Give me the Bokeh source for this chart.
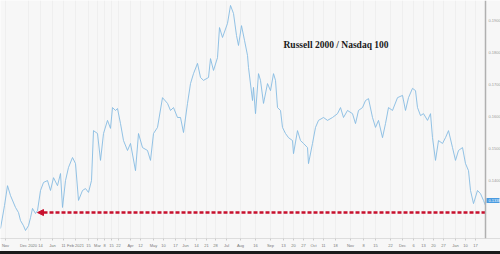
from bokeh.plotting import figure
from bokeh.models import Label, Arrow, NormalHead, FixedTicker, Range1d, Div, Span
from bokeh.core.properties import value
from bokeh.layouts import column
from bokeh.embed import file_html
from bokeh.resources import INLINE

# ---- data ----
day = [0, 4, 7, 10, 15, 18, 20, 23, 25, 28, 30, 32, 35, 37, 40, 43, 47, 50, 53, 57,
       60, 62, 65, 68, 72, 75, 78, 82, 85, 88, 91, 93, 97, 100, 103, 107, 110, 112, 115, 117,
       120, 123, 127, 130, 135, 138, 142, 147, 150, 153, 157, 162, 167, 170, 173, 177, 180, 183, 187, 190,
       193, 197, 200, 203, 208, 210, 213, 217, 219, 222, 227, 230, 233, 236, 238, 241, 244, 247, 248, 252,
       253, 255, 258, 260, 263, 267, 270, 273, 275, 277, 280, 282, 285, 288, 292, 293, 297, 300, 303, 307,
       308, 312, 315, 318, 323, 327, 332, 337, 340, 343, 347, 352, 355, 358, 362, 365, 368, 372, 375, 378,
       382, 385, 388, 392, 397, 402, 405, 408, 412, 415, 417, 420, 423, 427, 430, 432, 435, 438, 442, 445,
       448, 452, 455, 458, 462, 465, 468, 470, 473, 477, 480, 483, 485]
ratio = [0.1250, 0.1322, 0.1384, 0.1353, 0.1316, 0.1300, 0.1275, 0.1259, 0.1244, 0.1259,
         0.1284, 0.1313, 0.1297, 0.1306, 0.1369, 0.1394, 0.1400, 0.1369, 0.1409, 0.1384,
         0.1422, 0.1316, 0.1400, 0.1441, 0.1472, 0.1453, 0.1338, 0.1369, 0.1375, 0.1363,
         0.1400, 0.1556, 0.1547, 0.1463, 0.1547, 0.1588, 0.1563, 0.1628, 0.1619, 0.1625,
         0.1578, 0.1525, 0.1494, 0.1516, 0.1431, 0.1547, 0.1503, 0.1494, 0.1463, 0.1547,
         0.1566, 0.1659, 0.1641, 0.1619, 0.1628, 0.1597, 0.1597, 0.1550, 0.1641, 0.1703,
         0.1734, 0.1766, 0.1722, 0.1713, 0.1722, 0.1781, 0.1744, 0.1784, 0.1878, 0.1847,
         0.1891, 0.1947, 0.1922, 0.1853, 0.1822, 0.1884, 0.1838, 0.1791, 0.1753, 0.1650,
         0.1691, 0.1609, 0.1734, 0.1713, 0.1641, 0.1703, 0.1681, 0.1734, 0.1713, 0.1628,
         0.1619, 0.1566, 0.1547, 0.1534, 0.1525, 0.1484, 0.1556, 0.1525, 0.1516, 0.1503,
         0.1453, 0.1516, 0.1566, 0.1588, 0.1597, 0.1588, 0.1597, 0.1609, 0.1628, 0.1597,
         0.1619, 0.1609, 0.1578, 0.1619, 0.1628, 0.1650, 0.1656, 0.1597, 0.1566, 0.1588,
         0.1534, 0.1578, 0.1628, 0.1619, 0.1659, 0.1666, 0.1619, 0.1659, 0.1688, 0.1681,
         0.1628, 0.1603, 0.1609, 0.1588, 0.1609, 0.1534, 0.1463, 0.1525, 0.1516, 0.1534,
         0.1556, 0.1503, 0.1463, 0.1494, 0.1503, 0.1453, 0.1431, 0.1369, 0.1328, 0.1369,
         0.1359, 0.1338, 0.1322]

y_ticks = [0.14, 0.15, 0.16, 0.17, 0.18, 0.19]
y_tick_labels = ["0.1400", "0.1500", "0.1600", "0.1700", "0.1800", "0.1900"]

x_ticks = [5, 28, 40, 52, 63, 75, 88, 97, 104, 111, 118, 130, 140, 153, 163, 175, 185, 196,
           206, 215, 226, 240, 255, 270, 283, 293, 303, 313, 323, 335, 350, 363, 375, 390,
           402, 413, 423, 433, 443, 455, 465, 475]
x_tick_labels = ["Nov", "Dec 2020", "14", "Jan", "11", "Feb 2021", "15", "Mar", "8", "15", "22",
                 "Apr", "12", "May", "10", "17", "Jun", "14", "21", "28", "Jul", "Aug", "16",
                 "Sep", "13", "20", "27", "Oct", "11", "18", "Nov", "8", "15", "22", "Dec",
                 "6", "13", "20", "27", "Jan", "10", "17"]

support_level = 0.1300
last_value = 0.1338
last_label = "0.1338"
title_text = "Russell 2000 / Nasdaq 100"

axis_x = 485        # right value-axis position (in day units)
label_x = 488

BG = "#f7f7f7"

p = figure(width=500, height=251, output_backend="svg", toolbar_location=None,
           x_range=Range1d(0, 500), y_range=Range1d(0.1219, 0.19625),
           y_axis_location=None, min_border_left=0, min_border_top=0,
           min_border_right=0, min_border_bottom=13)
p.background_fill_color = BG
p.border_fill_color = BG
p.outline_line_color = None

p.line(day, ratio, line_color="#86bbe2", line_width=0.9)

p.add_layout(Arrow(start=NormalHead(size=6, fill_color="#c8102e", line_color="#c8102e"),
                   end=None, x_start=37, x_end=axis_x, y_start=support_level, y_end=support_level,
                   line_color="#c8102e", line_width=2.5, line_dash="4 2"))

p.add_layout(Label(x=283, y=0.1822, text=title_text, text_font="Liberation Serif",
                   text_font_style="bold", text_font_size="9.5px", text_baseline="middle",
                   text_color="#1a1a1a"))

# right value axis drawn in the plot
p.add_layout(Span(location=axis_x, dimension="height", line_color="#b0b0b0", line_width=1.5))
p.text(x=[label_x] * len(y_ticks), y=y_ticks, text=y_tick_labels,
       text_font_size="4px", text_color="#9a9a9a", text_baseline="middle",
       text_font=value("Liberation Sans"))

# last-price tag
p.rect(x=[axis_x + 7.5], y=[last_value], width=13, height=5, height_units="screen",
       fill_color="#4a9be0", line_color=None)
p.text(x=[label_x], y=[last_value], text=[last_label], text_font_size="4px",
       text_color="white", text_baseline="middle", text_font=value("Liberation Sans"))

xa = p.xaxis[0]
xa.ticker = FixedTicker(ticks=x_ticks)
xa.major_label_overrides = {t: l for t, l in zip(x_ticks, x_tick_labels)}
xa.major_label_text_font_size = "4px"
xa.major_label_text_color = "#777777"
xa.axis_line_color = "#dddddd"
xa.major_tick_line_color = "#cccccc"
xa.major_tick_out = 2
xa.major_tick_in = 0
xa.minor_tick_line_color = None
xa.major_label_standoff = 2

p.xgrid.grid_line_color = "#efefef"
p.ygrid.grid_line_color = None

bar = Div(width=500, height=3, styles={"background-color": "#1a1a1a", "margin": "0"})
layout = column(p, bar, spacing=0)

open("out.html", "w").write(file_html(layout, INLINE))
